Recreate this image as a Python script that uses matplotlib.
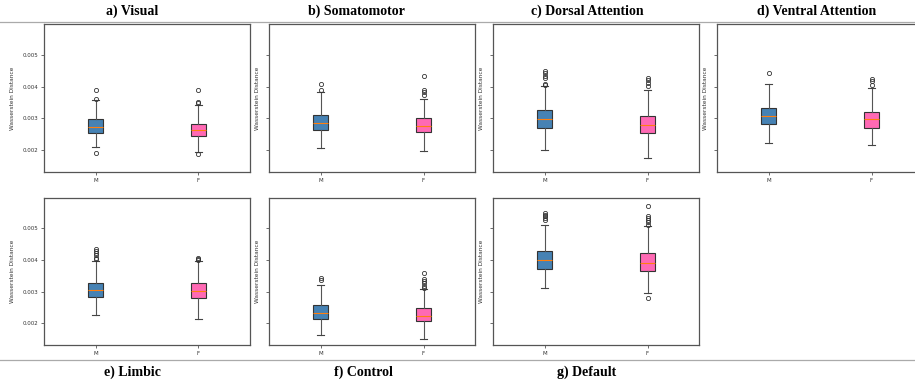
import matplotlib
matplotlib.use("Agg")
import matplotlib.pyplot as plt
from matplotlib.lines import Line2D

# panel titles (a-d on top, e-g below)
titles = ['a) Visual', 'b) Somatomotor', 'c) Dorsal Attention', 'd) Ventral Attention',
          'e) Limbic', 'f) Control', 'g) Default']
groups = ['M', 'F']

# box statistics, males
m_med = [0.00273, 0.00287, 0.00299, 0.00308, 0.00305, 0.00233, 0.00399]
m_q1 = [0.00254, 0.00263, 0.00270, 0.00283, 0.00285, 0.00215, 0.00372]
m_q3 = [0.00297, 0.00312, 0.00325, 0.00333, 0.00329, 0.00258, 0.00430]
m_lo = [0.00210, 0.00208, 0.00201, 0.00224, 0.00226, 0.00165, 0.00312]
m_hi = [0.00358, 0.00384, 0.00401, 0.00409, 0.00396, 0.00322, 0.00512]
m_fliers = [[0.00390, 0.00361, 0.00193],
            [0.00407, 0.00388],
            [0.00448, 0.00442, 0.00434, 0.00427, 0.00408, 0.00405],
            [0.00442],
            [0.00434, 0.00429, 0.00423, 0.00416, 0.00408, 0.00402],
            [0.00345, 0.00338],
            [0.00548, 0.00543, 0.00538, 0.00532, 0.00525]]

# females
f_med = [0.00263, 0.00277, 0.00280, 0.00297, 0.00302, 0.00225, 0.00391]
f_q1 = [0.00245, 0.00256, 0.00254, 0.00271, 0.00280, 0.00207, 0.00366]
f_q3 = [0.00283, 0.00301, 0.00309, 0.00321, 0.00328, 0.00250, 0.00422]
f_lo = [0.00194, 0.00198, 0.00177, 0.00217, 0.00213, 0.00152, 0.00296]
f_hi = [0.00341, 0.00362, 0.00390, 0.00396, 0.00397, 0.00308, 0.00507]
f_fliers = [[0.00390, 0.00353, 0.00349, 0.00187],
            [0.00432, 0.00390, 0.00382, 0.00374],
            [0.00427, 0.00419, 0.00410, 0.00403],
            [0.00423, 0.00418, 0.00404],
            [0.00406, 0.00403, 0.00400],
            [0.00358, 0.00340, 0.00334, 0.00327, 0.00319, 0.00313],
            [0.00572, 0.00538, 0.00532, 0.00525, 0.00519, 0.00512, 0.00279]]

colors = ['#4682b4', '#ff69b4']
yticks = [0.002, 0.003, 0.004, 0.005]

W, H = 915, 383
fig = plt.figure(figsize=(W / 100, H / 100), dpi=100)

lefts = [44, 269, 493, 717]
rows = [(24, 172), (198, 345)]
title_x = [132, 356, 587, 817, 132, 363, 587]

for i in range(7):
    r, c = divmod(i, 4)
    top, bot = rows[r]
    ax = fig.add_axes([lefts[c] / W, 1 - bot / H, 206 / W, (bot - top) / H])

    stats = []
    for med, q1, q3, lo, hi, fl in [
            (m_med[i], m_q1[i], m_q3[i], m_lo[i], m_hi[i], m_fliers[i]),
            (f_med[i], f_q1[i], f_q3[i], f_lo[i], f_hi[i], f_fliers[i])]:
        stats.append(dict(med=med, q1=q1, q3=q3, whislo=lo, whishi=hi, fliers=fl))

    bp = ax.bxp(stats, positions=[1, 2], widths=0.15, patch_artist=True,
                boxprops=dict(edgecolor='#333333', linewidth=0.8),
                whiskerprops=dict(color='#555555', linewidth=0.8),
                capprops=dict(color='#444444', linewidth=0.8),
                medianprops=dict(color='#ff7f0e', linewidth=0.8),
                flierprops=dict(marker='o', markersize=3, markerfacecolor='none',
                                markeredgecolor='#333333', markeredgewidth=0.6))
    for patch, col in zip(bp['boxes'], colors):
        patch.set_facecolor(col)

    ax.set_xlim(0.5, 2.5)
    ax.set_ylim(0.00132, 0.00596)
    ax.set_xticks([1, 2])
    ax.set_xticklabels(groups)
    ax.set_yticks(yticks)
    ax.tick_params(labelsize=4, length=2, width=0.5, pad=2, colors='#333333')
    if c != 0:
        ax.set_yticklabels([])
    ax.set_ylabel('Wasserstein Distance', fontsize=4.2, color='#333333')
    ax.yaxis.set_label_coords(-29 / 206 if c == 0 else -9 / 206, 0.5)
    for sp in ax.spines.values():
        sp.set_color('#555555')
        sp.set_linewidth(0.9)

    ty = 11 if r == 0 else 372
    fig.text(title_x[i] / W, 1 - ty / H, titles[i], ha='center', va='center',
             fontsize=10, fontweight='bold', family='Liberation Serif')

# thin separator lines under the top titles and above the bottom ones
for y in [21.5, 360]:
    fig.add_artist(Line2D([0, 1], [1 - y / H, 1 - y / H], color='#aaaaaa', linewidth=0.9))

fig.savefig('out.png', dpi=100)
